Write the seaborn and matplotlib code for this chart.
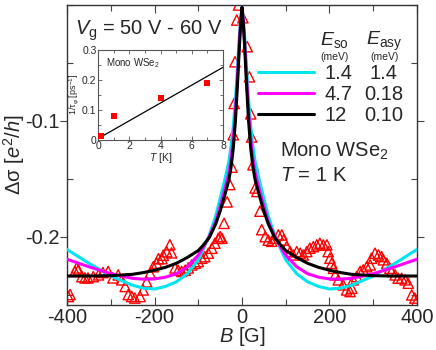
import numpy as np
import pandas as pd
import matplotlib
matplotlib.use('Agg')
import matplotlib.pyplot as plt
from matplotlib.ticker import MultipleLocator
import seaborn as sns

# measured data (open triangles): field B [G], Δσ [e^2/h]
B_data = [-397, -393, -382, -378, -374, -366, -359, -352, -340, -328, -318, -306, -295,
          -283, -275, -267, -260, -252, -245, -233, -226, -218, -210, -203, -195, -191,
          -183, -180, -172, -165, -161, -153, -146, -138, -130, -123, -115, -107, -100,
          -92, -85, -77, -69, -62, -54, -50, -46, -41, -34, -28, -23, -20, -18, -16,
          -12, -8, 2, 12, 17, 20, 22, 25, 30, 34, 41, 45, 53, 60, 68, 75, 83, 91, 95,
          102, 110, 117, 125, 133, 140, 148, 155, 163, 171, 178, 186, 194, 197, 201,
          205, 209, 213, 220, 231, 239, 247, 251, 254, 262, 270, 277, 285, 293, 296,
          304, 312, 319, 323, 331, 338, 342, 350, 357, 365, 373, 380, 388, 395, 399]
ds_data = [-0.2517, -0.250, -0.230, -0.227, -0.2287, -0.2345, -0.2356, -0.2356, -0.2345,
           -0.233, -0.231, -0.230, -0.2356, -0.233, -0.2373, -0.243, -0.250, -0.2517,
           -0.253, -0.2517, -0.246, -0.239, -0.2316, -0.226, -0.223, -0.219, -0.219,
           -0.216, -0.213, -0.207, -0.214, -0.227, -0.229, -0.230, -0.229, -0.227,
           -0.2244, -0.223, -0.2215, -0.2186, -0.2173, -0.2143, -0.210, -0.2057, -0.2014,
           -0.200, -0.2014, -0.1885, -0.170, -0.155, -0.140, -0.112, -0.085, -0.049,
           -0.013, 0.000, -0.011, -0.036, -0.062, -0.094, -0.114, -0.138, -0.158, -0.161,
           -0.178, -0.194, -0.200, -0.203, -0.204, -0.2014, -0.1985, -0.1985, -0.2028,
           -0.2086, -0.2129, -0.2158, -0.2129, -0.2143, -0.2158, -0.2129, -0.210, -0.2086,
           -0.2071, -0.2057, -0.2071, -0.2071, -0.2129, -0.2186, -0.223, -0.2273, -0.233,
           -0.2373, -0.2416, -0.246, -0.2474, -0.2445, -0.2373, -0.2345, -0.230, -0.2287,
           -0.2259, -0.2244, -0.2186, -0.2143, -0.2158, -0.2172, -0.220, -0.223, -0.2273,
           -0.230, -0.233, -0.2359, -0.2359, -0.2373, -0.2402, -0.2503, -0.253, -0.256]

# fit curves, read for B >= 0 (symmetric in B)
B_fit = [0, 3, 6, 10, 15, 20, 25, 30, 40, 50, 60, 75, 90, 100, 125, 150, 175, 200,
         225, 250, 300, 350, 400]
fit_cyan = [-0.002, -0.012, -0.027, -0.052, -0.082, -0.105, -0.122, -0.135, -0.152,
            -0.167, -0.182, -0.199, -0.212, -0.220, -0.232, -0.239, -0.243, -0.2452,
            -0.2445, -0.242, -0.234, -0.223, -0.211]
fit_magenta = [-0.002, -0.014, -0.032, -0.060, -0.092, -0.116, -0.133, -0.145, -0.160,
               -0.174, -0.187, -0.200, -0.210, -0.216, -0.226, -0.232, -0.235, -0.2365,
               -0.2367, -0.236, -0.232, -0.226, -0.2195]
fit_black = [-0.002, -0.016, -0.036, -0.066, -0.100, -0.124, -0.140, -0.151, -0.165,
             -0.178, -0.189, -0.201, -0.208, -0.212, -0.218, -0.223, -0.2265, -0.229,
             -0.231, -0.2325, -0.2337, -0.234, -0.234]

E_so = ['1.4', '4.7', '12']
E_asy = ['1.4', '0.18', '0.10']
fit_colors = ['#00e5ee', '#ff00ff', 'black']

x_ticks = [-400, -200, 0, 200, 400]
y_ticks = [-0.2, -0.1]

# inset: dephasing rate vs temperature
T_inset = [0.2, 1, 4, 7]
rate_inset = [0.011, 0.078, 0.14, 0.191]
T_line = [0, 8]
rate_line = [0.003, 0.242]

sns.set_theme(style='ticks')
plt.rcParams['font.family'] = ['Liberation Sans', 'DejaVu Sans']
plt.rcParams['mathtext.fontset'] = 'custom'
plt.rcParams['mathtext.rm'] = 'Liberation Sans'
plt.rcParams['mathtext.it'] = 'Liberation Sans:italic'
plt.rcParams['mathtext.bf'] = 'Liberation Sans:bold'
plt.rcParams['axes.unicode_minus'] = False

fig = plt.figure(figsize=(4.36, 3.5), dpi=100)
ax = fig.add_axes([0.1537, 0.1286, 0.8027, 0.8571])

df = pd.DataFrame({'B': B_data, 'ds': ds_data})
sns.scatterplot(data=df, x='B', y='ds', ax=ax, marker='^', s=55,
                facecolor='none', edgecolor='red', linewidth=1.0, zorder=2)

# mirror the half curves to negative field
B_full = [-b for b in B_fit[::-1]] + B_fit[1:]
handles = []
for vals, col in zip([fit_cyan, fit_magenta, fit_black], fit_colors):
    y_full = vals[::-1] + vals[1:]
    sns.lineplot(x=B_full, y=y_full, ax=ax, color=col, lw=2.2, sort=False,
                 estimator=None, zorder=3)
    handles.append(ax.lines[-1])

ax.set_xlim(-400, 400)
ax.set_ylim(-0.259, 0.0)
ax.set_xticks(x_ticks)
ax.set_yticks(y_ticks)
ax.xaxis.set_minor_locator(MultipleLocator(100))
ax.yaxis.set_minor_locator(MultipleLocator(0.05))
ax.tick_params(which='both', direction='in', top=True, right=True, labelsize=14.5,
               width=0.8, color='#444444', pad=2)
ax.tick_params(which='major', length=6)
ax.tick_params(which='minor', length=4)
ax.tick_params(axis='y', which='major', direction='out', length=5, pad=0)
for sp in ax.spines.values():
    sp.set_linewidth(1.0)
    sp.set_color('#333333')

ax.set_xlabel('$B$ [G]', fontsize=14.5, labelpad=-1)
ax.set_ylabel('Δσ [$e^2$/$h$]', fontsize=14.5, labelpad=-1)

ax.text(0.023, 0.90, r'$V_{\rm g}$ = 50 V - 60 V', transform=ax.transAxes,
        fontsize=14.5, ha='left', va='baseline')

leg = ax.legend(handles, E_so, loc='center left', bbox_to_anchor=(0.545, 0.702),
                frameon=False, fontsize=14.5, handlelength=2.8, handletextpad=0.5,
                labelspacing=0.1, borderpad=0, borderaxespad=0)
row_y = [0.773, 0.702, 0.631]
for val, yy in zip(E_asy, row_y):
    ax.text(0.905, yy, val, transform=ax.transAxes, fontsize=14.5,
            ha='center', va='center')
ax.text(0.764, 0.867, r'$E_{\rm so}$', transform=ax.transAxes, fontsize=14,
        ha='center', va='baseline')
ax.text(0.906, 0.867, r'$E_{\rm asy}$', transform=ax.transAxes, fontsize=14,
        ha='center', va='baseline')
ax.text(0.764, 0.826, '(meV)', transform=ax.transAxes, fontsize=7.5,
        ha='center', va='center')
ax.text(0.906, 0.826, '(meV)', transform=ax.transAxes, fontsize=7.5,
        ha='center', va='center')

ax.text(0.609, 0.493, r'Mono WSe$_2$', transform=ax.transAxes, fontsize=14.5,
        ha='left', va='baseline')
ax.text(0.609, 0.412, r'$T$ = 1 K', transform=ax.transAxes, fontsize=14.5,
        ha='left', va='baseline')

# inset
axin = fig.add_axes([0.2248, 0.6014, 0.2867, 0.2557])
sns.lineplot(x=T_line, y=rate_line, ax=axin, color='black', lw=0.9)
sns.scatterplot(x=T_inset, y=rate_inset, ax=axin, marker='s', s=22, color='red',
                edgecolor='red', linewidth=0, zorder=3)
axin.set_xlim(0, 8)
axin.set_ylim(0, 0.3)
axin.set_xticks([0, 2, 4, 6, 8])
axin.set_yticks([0, 0.1, 0.2, 0.3])
axin.set_yticklabels(['0', '0.1', '0.2', '0.3'])
axin.xaxis.set_minor_locator(MultipleLocator(1))
axin.yaxis.set_minor_locator(MultipleLocator(0.05))
axin.tick_params(which='both', direction='in', top=True, right=True, labelsize=7.5,
                 width=0.6, color='#555555', pad=1)
axin.tick_params(which='major', length=3)
axin.tick_params(which='minor', length=2)
for sp in axin.spines.values():
    sp.set_linewidth(0.8)
    sp.set_color('#555555')
axin.set_xlabel('$T$ [K]', fontsize=7.5, labelpad=0)
axin.set_ylabel('1/τ$_{\\rm φ}$ [ps$^{-1}$]', fontsize=6.5, labelpad=1)
axin.text(0.06, 0.93, r'Mono WSe$_2$', transform=axin.transAxes, fontsize=7,
          ha='left', va='top')

fig.savefig('out.png', dpi=100)
